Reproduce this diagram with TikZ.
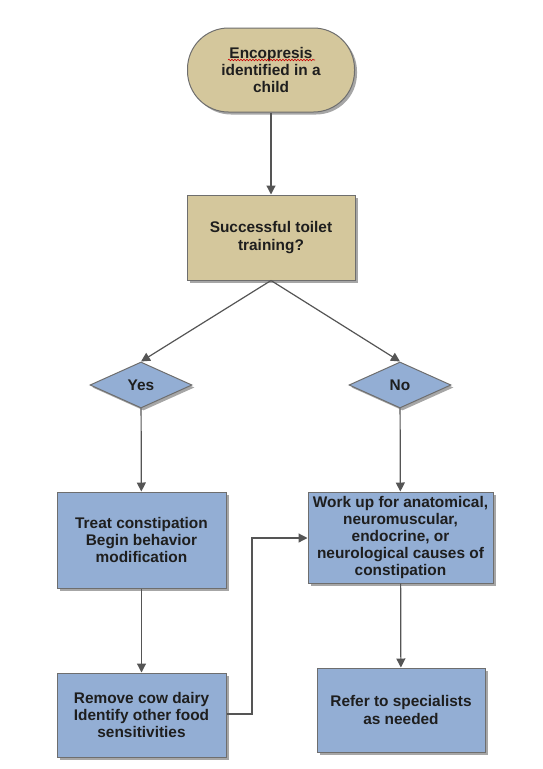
\documentclass[tikz,border=0pt]{standalone}
\usepackage{fontspec}
\setmainfont{Liberation Sans}
\usetikzlibrary{shapes.geometric,arrows.meta,shadows,decorations.pathmorphing}
\definecolor{tanfill}{RGB}{212,199,156}
\definecolor{bluefill}{RGB}{147,174,212}
\definecolor{edgegray}{RGB}{110,110,110}
\definecolor{linegray}{RGB}{85,85,85}
\definecolor{txt}{RGB}{30,30,30}
\tikzset{
  base/.style={draw=edgegray, line width=1pt, align=center, text=txt,
    font=\fontsize{15.4}{17.2}\selectfont\bfseries,
    drop shadow={shadow xshift=2.5pt, shadow yshift=-2.5pt, fill=black, opacity=0.35}},
  term/.style={base, fill=tanfill, rounded corners=41pt, minimum width=167pt, minimum height=84pt, inner sep=0pt},
  tanbox/.style={base, fill=tanfill, minimum width=168pt, minimum height=85pt, inner sep=0pt},
  bluebox/.style={base, fill=bluefill, inner sep=0pt},
  dia/.style={base, fill=bluefill, diamond, aspect=2.2, minimum width=102pt, minimum height=46pt, inner sep=0pt},
  conn/.style={draw=linegray, line width=1.2pt, -{Triangle[width=9pt,length=9pt]}}
}
\begin{document}
\begin{tikzpicture}[x=1pt,y=-1pt]
\useasboundingbox[fill=white] (0,0) rectangle (543,769);
\node[term] (start) at (271,70) {Encopresis\\identified in a\\child};
\node[tanbox] (q) at (271,237.5) {Successful toilet\\training?};
\node[dia] (yes) at (141,385) {Yes};
\node[dia] (no) at (400,385) {No};
\node[bluebox, minimum width=169pt, minimum height=96pt] (treat) at (141.5,540) {Treat constipation\\Begin behavior\\modification};
\node[bluebox, minimum width=185pt, minimum height=91pt] (work) at (400.5,537.5) {Work up for anatomical,\\neuromuscular,\\endocrine, or\\neurological causes of\\constipation};
\node[bluebox, minimum width=169pt, minimum height=84pt] (remove) at (141.5,715) {Remove cow dairy\\Identify other food\\sensitivities};
\node[bluebox, minimum width=168pt, minimum height=84pt] (refer) at (401,710) {Refer to specialists\\as needed};
\coordinate (wavestart) at (228,60);
\coordinate (waveend) at (315,60);
\draw[red!80!black, line width=0.6pt, decorate, decoration={snake, amplitude=0.8pt, segment length=3pt}] (wavestart) -- (waveend);
\draw[conn] (start) -- (q);
\draw[conn] (q.south) -- (yes.north);
\draw[conn] (q.south) -- (no.north);
\draw[conn] (yes) -- (treat);
\draw[conn] (no) -- (work);
\draw[conn] (treat) -- (remove);
\draw[conn] (work) -- (refer);
\coordinate (bend) at (252,714);
\draw[conn] (remove.east |- bend) -- (bend) |- (work.west |- 0,538);
\end{tikzpicture}
\end{document}
